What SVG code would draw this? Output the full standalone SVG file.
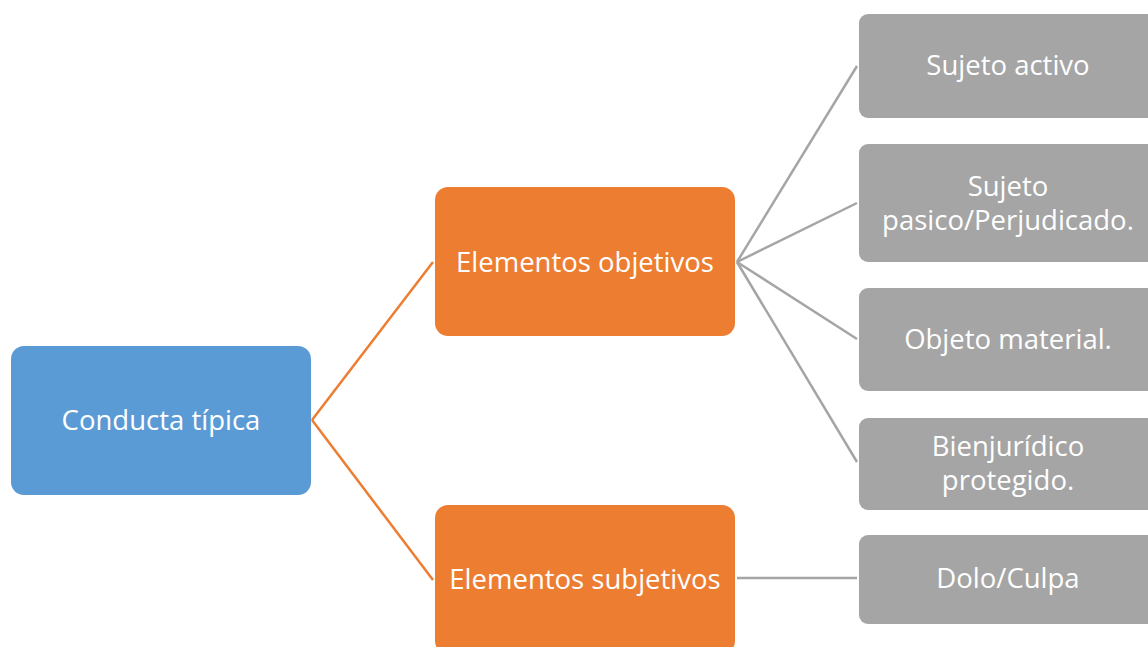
<svg xmlns="http://www.w3.org/2000/svg" width="1148" height="647" viewBox="0 0 1148 647">
<style>
text{font-family:"Open Sans","Noto Sans",sans-serif;font-size:27.5px;fill:#fff;text-anchor:middle;dominant-baseline:central}
.blue{fill:#5B9BD5}.orange{fill:#ED7D31}.gray{fill:#A5A5A5}
.lo{stroke:#ED7D31;stroke-width:2.5;fill:none}.lg{stroke:#A5A5A5;stroke-width:2.5;fill:none}
</style>
<rect width="1148" height="647" fill="#fff"/>
<g id="connectors">
<path class="lo" d="M312,420 L433,262"/>
<path class="lo" d="M312,420 L433,580"/>
<path class="lg" d="M737,262 L857,66"/>
<path class="lg" d="M737,262 L857,203"/>
<path class="lg" d="M737,262 L857,339"/>
<path class="lg" d="M737,262 L857,462"/>
<path class="lg" d="M737,578 L857,578"/>
</g>
<g id="n-conducta"><rect class="blue" x="11" y="346" width="300" height="149" rx="13"/><text x="161" y="419">Conducta típica</text></g>
<g id="n-objetivos"><rect class="orange" x="435" y="187" width="300" height="149" rx="13"/><text x="585" y="261">Elementos objetivos</text></g>
<g id="n-subjetivos"><rect class="orange" x="435" y="505" width="300" height="149" rx="13"/><text x="585" y="578">Elementos subjetivos</text></g>
<g id="n-activo"><rect class="gray" x="859" y="14" width="300" height="104" rx="9"/><text x="1008" y="64">Sujeto activo</text></g>
<g id="n-pasivo"><rect class="gray" x="859" y="144" width="300" height="118" rx="9"/><text x="1008" y="185">Sujeto</text><text x="1008" y="219">pasico/Perjudicado.</text></g>
<g id="n-objeto"><rect class="gray" x="859" y="288" width="300" height="103" rx="9"/><text x="1008" y="338">Objeto material.</text></g>
<g id="n-bien"><rect class="gray" x="859" y="418" width="300" height="92" rx="9"/><text x="1008" y="445">Bienjurídico</text><text x="1008" y="479">protegido.</text></g>
<g id="n-dolo"><rect class="gray" x="859" y="535" width="300" height="89" rx="9"/><text x="1008" y="577">Dolo/Culpa</text></g>
</svg>
